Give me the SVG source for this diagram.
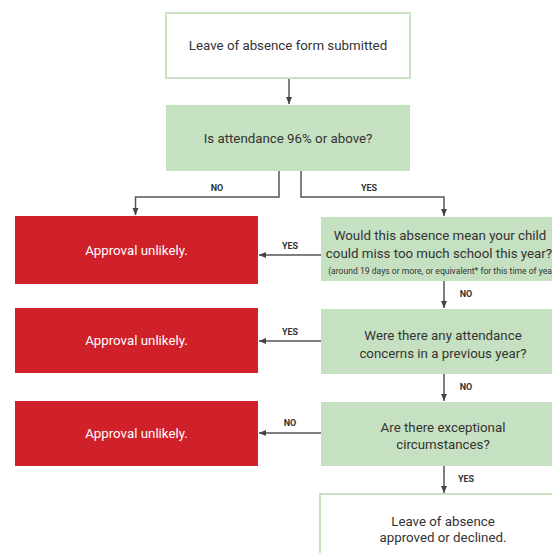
<svg xmlns="http://www.w3.org/2000/svg" width="552" height="553" viewBox="0 0 552 553">
<defs>
<style>
.white{fill:#ffffff;stroke:#c8e2c2;stroke-width:2}
.green{fill:#c6e1c1}
.red{fill:#d0212a}
.t{font-family:Roboto,"Liberation Sans",sans-serif;font-size:13.3px;fill:#333333;text-anchor:middle}
.tw{font-family:Roboto,"Liberation Sans",sans-serif;font-size:13.3px;fill:#ffffff;text-anchor:middle}
.small{font-family:Roboto,"Liberation Sans",sans-serif;font-size:8.6px;fill:#333333;text-anchor:middle}
.lbl{font-family:Roboto,"Liberation Sans",sans-serif;font-size:9px;font-weight:bold;fill:#333333;text-anchor:middle}
.c{fill:none;stroke:#555555;stroke-width:1.5}
</style>
<marker id="ah" markerWidth="8" markerHeight="8" refX="7" refY="4" orient="auto" markerUnits="userSpaceOnUse">
<path d="M0,1 L7,4 L0,7 Z" fill="#444444"/>
</marker>
</defs>
<rect width="552" height="553" fill="#ffffff"/>

<g id="connectors">
<path class="c" d="M289,78 V104" marker-end="url(#ah)"/>
<path class="c" d="M279,171 V197 H135.5 V215" marker-end="url(#ah)"/>
<path class="c" d="M301,171 V197 H444 V216" marker-end="url(#ah)"/>
<path class="c" d="M321,255 H259" marker-end="url(#ah)"/>
<path class="c" d="M444,281 V308" marker-end="url(#ah)"/>
<path class="c" d="M321,341 H259" marker-end="url(#ah)"/>
<path class="c" d="M444,374 V401" marker-end="url(#ah)"/>
<path class="c" d="M321,433 H259" marker-end="url(#ah)"/>
<path class="c" d="M444,466 V493" marker-end="url(#ah)"/>
<text class="lbl" x="217" y="191">NO</text>
<text class="lbl" x="369" y="191">YES</text>
<text class="lbl" x="290" y="249">YES</text>
<text class="lbl" x="466" y="297">NO</text>
<text class="lbl" x="290" y="335">YES</text>
<text class="lbl" x="466" y="390">NO</text>
<text class="lbl" x="290" y="426">NO</text>
<text class="lbl" x="466" y="482">YES</text>
</g>

<g id="start">
<rect class="white" x="166" y="13" width="244" height="65"/>
<text class="t" x="288" y="50">Leave of absence form submitted</text>
</g>

<g id="q1">
<rect class="green" x="166" y="105" width="244" height="66"/>
<text class="t" x="288" y="143">Is attendance 96% or above?</text>
</g>

<g id="red1">
<rect class="red" x="15" y="216" width="243" height="68"/>
<text class="tw" x="136.5" y="255">Approval unlikely.</text>
</g>

<g id="q2">
<rect class="green" x="321" y="217" width="244" height="64"/>
<text class="t" x="440" y="240">Would this absence mean your child</text>
<text class="t" x="439" y="258">could miss too much school this year?</text>
<text class="small" x="443" y="274">(around 19 days or more, or equivalent* for this time of year)</text>
</g>

<g id="red2">
<rect class="red" x="15" y="308" width="243" height="65"/>
<text class="tw" x="136.5" y="345">Approval unlikely.</text>
</g>

<g id="q3">
<rect class="green" x="321" y="309" width="244" height="65"/>
<text class="t" x="443" y="340">Were there any attendance</text>
<text class="t" x="443" y="358">concerns in a previous year?</text>
</g>

<g id="red3">
<rect class="red" x="15" y="401" width="243" height="65"/>
<text class="tw" x="136.5" y="438">Approval unlikely.</text>
</g>

<g id="q4">
<rect class="green" x="321" y="402" width="244" height="64"/>
<text class="t" x="443" y="432">Are there exceptional</text>
<text class="t" x="443" y="449">circumstances?</text>
</g>

<g id="end">
<rect class="white" x="320" y="494" width="245" height="70"/>
<text class="t" x="443" y="526">Leave of absence</text>
<text class="t" x="443" y="542">approved or declined.</text>
</g>
</svg>
